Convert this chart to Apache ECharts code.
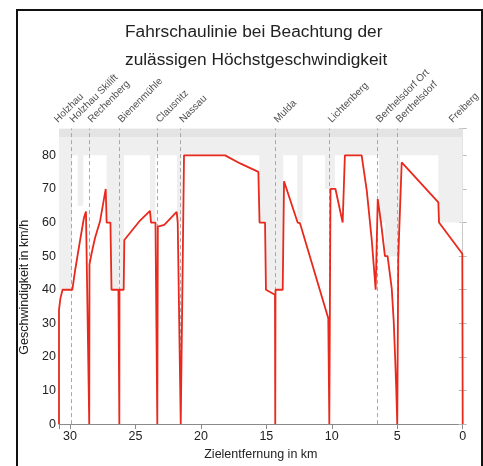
<!DOCTYPE html>
<html>
<head>
<meta charset="utf-8">
<script src="https://cdn.jsdelivr.net/npm/echarts@6/dist/echarts.min.js"></script>
<style>html,body{margin:0;padding:0;background:#fff}#c{width:483px;height:466px}</style>
</head>
<body>
<div id="c"></div>
<script>
// ---- data ----
var xMaxKm = 30.84;
var stationNames = ['Holzhau','Holzhau Skilift','Rechenberg','Bienenmühle','Clausnitz','Nassau','Mulda','Lichtenberg','Berthelsdorf Ort','Berthelsdorf','Freiberg'];
var stationKm = [31.1, 29.92, 28.53, 26.23, 23.33, 21.54, 14.32, 10.19, 6.52, 5.0, 0.95];

// speed limit zones (boundaries in km, value per zone)
var limitKm = [30.84, 29.84, 29.41, 28.98, 27.20, 26.85, 25.87, 23.89, 23.47, 21.83, 21.47, 15.54, 15.10, 13.71, 12.64, 12.22, 10.52, 9.76, 6.39, 5.94, 4.79, 1.86, 0];
var limitVal = [40, 80, 65, 80, 60, 40, 80, 60, 80, 60, 80, 60, 40, 80, 60, 80, 70, 80, 60, 50, 80, 60];

// driving curve
var speedKm = [30.84,30.84,30.73,30.57,29.82,29.62,29.24,28.93,28.78,28.53,28.51,28.34,28.09,27.71,27.27,27.20,26.91,26.83,26.30,26.23,
  26.22,25.90,25.85,24.65,23.89,23.81,23.47,23.33,23.29,22.80,21.85,21.77,21.62,21.54,21.29,18.15,17.00,15.61,15.52,15.10,15.03,14.34,14.32,
  14.30,13.75,13.65,12.61,12.43,10.27,10.19,10.10,9.72,9.17,9.00,7.72,7.33,6.95,6.65,6.49,6.24,6.14,5.94,5.74,5.42,5.27,5.17,5.08,5.00,
  4.92,4.84,4.66,1.86,1.81,0.03,0.0];
var speedVal = [0,34,37.5,40,40,45.5,54.5,61.5,63.3,0,47.6,51,55.4,60.3,70,60,60,40,40,0,
  40,40,54.8,60.6,63.5,60,60,0,58.8,59.3,63.2,60,60,0,80,80,77.6,75.1,60,60,40,38.5,0,
  40,40,72.3,60,59.8,31.5,0,70,70,60,80,80,69.6,54.9,40,67,60,60,50,50,40.3,30.6,20.8,11,0,
  50,50,77.9,66,60,50.7,0];

var yTicks = [0,10,20,30,40,50,60,70,80];
var xTicks = [0,5,10,15,20,25,30];

// ---- build ----
var limitData = [];
for (var i = 0; i < limitVal.length; i++) {
  limitData.push([limitKm[i], limitVal[i]]);
  limitData.push([limitKm[i+1], limitVal[i]]);
}
var speedData = speedKm.map(function (k, i) { return [k, speedVal[i]]; });
var stationData = stationKm.map(function (k, i) { return {value: [k, 88], name: stationNames[i]}; });
var lineStations = stationKm.slice(1, -1).map(function (k) { return {xAxis: k}; });

var FONT = "'Liberation Sans',Arial,sans-serif";
var chart = echarts.init(document.getElementById('c'), null, {renderer: 'canvas'});
chart.setOption({
  animation: false,
  title: {
    text: 'Fahrschaulinie bei Beachtung der\nzulässigen Höchstgeschwindigkeit',
    left: 120, top: 13,
    textStyle: {fontFamily: FONT, fontSize: 17.3, fontWeight: 'normal', color: '#222', lineHeight: 28}
  },
  graphic: [{
    type: 'rect', shape: {x: 17, y: 10, width: 465, height: 470},
    style: {fill: 'none', stroke: '#111', lineWidth: 2}, silent: true
  }],
  grid: {left: 59, right: 20.3, top: 128.5, bottom: 36.5},
  xAxis: [{
    type: 'value', min: 0, max: xMaxKm, inverse: true, interval: 5, position: 'bottom',
    name: 'Zielentfernung in km', nameLocation: 'middle', nameGap: 23,
    nameTextStyle: {fontFamily: FONT, fontSize: 12.5, color: '#222'},
    axisLine: {lineStyle: {color: '#c8c8c8'}}, axisTick: {show: false},
    splitLine: {show: false},
    axisLabel: {fontFamily: FONT, fontSize: 12.5, color: '#222', margin: 6,
      formatter: function (v) { return xTicks.indexOf(Math.round(v*1000)/1000) >= 0 ? String(v) : ''; }}
  }, {
    type: 'value', min: 0, max: xMaxKm, inverse: true, interval: 5, position: 'top',
    axisLine: {lineStyle: {color: '#8a8a8a'}},
    axisTick: {inside: true, length: 5, lineStyle: {color: '#8a8a8a'}},
    axisLabel: {show: false}, splitLine: {show: false}
  }],
  yAxis: [{
    type: 'value', min: 0, max: 88, interval: 10, position: 'left',
    name: 'Geschwindigkeit in km/h', nameLocation: 'middle', nameGap: 25,
    nameTextStyle: {fontFamily: FONT, fontSize: 12.5, color: '#222', padding: [0, 22, 0, 0]},
    axisLine: {show: true, lineStyle: {color: '#a0a0a0'}},
    axisTick: {show: true, inside: true, length: 4, lineStyle: {color: '#bbb'}},
    splitLine: {show: false},
    axisLabel: {fontFamily: FONT, fontSize: 12.5, color: '#222', margin: 3,
      formatter: function (v) { return yTicks.indexOf(v) >= 0 ? String(v) : ''; }}
  }, {
    type: 'value', min: 0, max: 88, interval: 10, position: 'right',
    axisLine: {show: true, lineStyle: {color: '#c8c8c8'}},
    axisTick: {show: true, inside: true, length: 4, lineStyle: {color: '#bbb'}},
    axisLabel: {show: false}, splitLine: {show: false}
  }],
  series: [{
    type: 'line', data: limitData, showSymbol: false, silent: true, z: 1,
    lineStyle: {width: 0, opacity: 0},
    areaStyle: {origin: 'end', color: '#efefef', opacity: 1}
  }, {
    type: 'line', data: [[xMaxKm, 85.5], [0, 85.5]], showSymbol: false, silent: true, z: 1,
    lineStyle: {width: 0, opacity: 0},
    areaStyle: {origin: 'end', color: '#e4e4e4', opacity: 1}
  }, {
    type: 'line', data: [], z: 2, silent: true,
    markLine: {silent: true, symbol: 'none', label: {show: false},
      lineStyle: {type: [4, 3], color: '#a8a8a8', width: 1}, data: lineStations}
  }, {
    type: 'line', data: speedData, showSymbol: false, z: 5, silent: true,
    lineStyle: {color: '#e8291c', width: 1.8}
  }, {
    type: 'scatter', data: stationData, symbolSize: 0, clip: false, z: 6, silent: true,
    label: {show: true, formatter: '{b}', rotate: 45, position: [4, -4], align: 'left', verticalAlign: 'bottom',
      fontFamily: FONT, fontSize: 10, color: '#222'}
  }]
});
</script>
</body>
</html>
